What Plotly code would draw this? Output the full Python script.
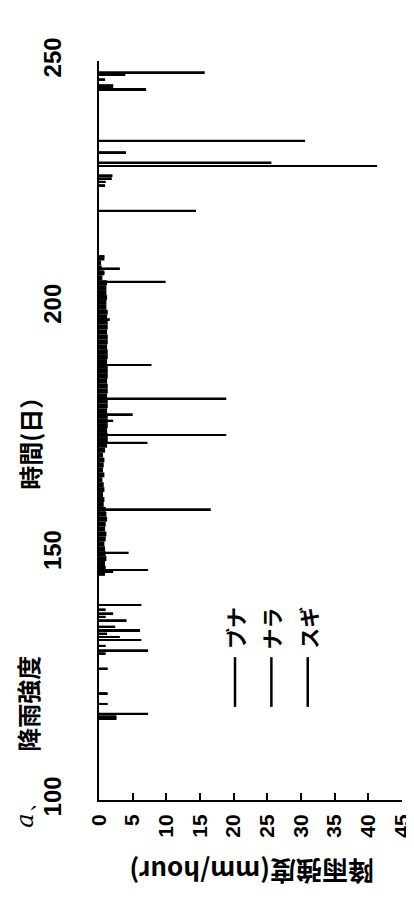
import plotly.graph_objects as go

# Daily background rainfall intensity (mm/hour), days 146-210
band_days = list(range(146, 211))
band_vals = [0.9, 1.0, 0.9, 1.1, 1.0, 0.9, 0.8, 1.0, 1.1, 0.9,
             1.0, 1.2, 1.1, 1.0, 0.7, 0.8, 0.6, 0.8, 0.7, 0.5,
             0.8, 0.6, 0.7, 0.8, 0.6, 0.9, 1.2, 1.3, 1.3, 1.2,
             1.3, 1.3, 1.3, 1.2, 1.3, 1.3, 1.2, 1.3, 1.3, 1.2,
             1.3, 1.3, 1.3, 1.2, 1.3, 1.3, 1.2, 1.3, 1.3, 1.2,
             1.3, 1.3, 1.2, 1.3, 1.1, 1.1, 1.2, 1.1, 1.1, 1.2,
             0.5, 0.8, 0.4, 0.3, 0.8]

# Rain events (day, intensity mm/hour)
event_days = [116.6, 117.0, 117.5, 119.5, 121.7, 126.7, 129.8, 130.4, 131.3, 132.5,
              133.1, 133.8, 134.5, 135.2, 136.5, 137.2, 137.9, 138.7, 139.6, 146.3,
              146.7, 150.2, 159.0, 172.5, 174.1, 177.0, 178.3, 181.5, 188.3, 197.6,
              205.2, 207.0, 207.9, 210.4, 219.6, 224.8, 225.5, 226.2, 226.8, 228.7,
              229.4, 231.5, 233.8, 244.3, 244.8, 245.1, 246.3, 247.2, 247.5, 247.7]
event_vals = [2.6, 2.6, 7.3, 1.3, 1.3, 1.3, 1.0, 7.3, 1.0, 6.3,
              3.1, 1.2, 6.1, 2.4, 4.1, 1.0, 2.1, 1.0, 6.3, 2.1,
              7.3, 4.4, 16.6, 7.2, 18.9, 2.1, 5.0, 18.9, 7.8, 1.6,
              9.9, 0.8, 3.1, 0.8, 14.4, 0.9, 1.0, 1.9, 2.0, 41.3,
              25.6, 4.0, 30.6, 7.0, 2.1, 2.1, 0.9, 3.9, 3.9, 15.7]

series_names = ["ブナ", "ナラ", "スギ"]
legend_x = [20.2, 25.6, 31.0]
x_ticks = [0, 5, 10, 15, 20, 25, 30, 35, 40, 45]
y_ticks = [100, 150, 200, 250]

fig = go.Figure()
fig.add_trace(go.Bar(x=band_vals, y=band_days, orientation="h", width=1.0,
                     marker=dict(color="black", line=dict(width=0)), showlegend=False))
fig.add_trace(go.Bar(x=event_vals, y=event_days, orientation="h", width=0.4,
                     marker=dict(color="black", line=dict(width=0)), showlegend=False))

fig.update_layout(
    width=406, height=891,
    margin=dict(l=91, r=12, t=53, b=99),
    paper_bgcolor="white", plot_bgcolor="white",
    barmode="overlay",
    xaxis=dict(range=[0, 45], tickvals=x_ticks, ticktext=[str(v) for v in x_ticks],
               tickangle=-90, ticks="inside", ticklen=7, tickwidth=1.5, tickcolor="black",
               automargin=False, ticklabelstandoff=4,
               showline=True, linecolor="black", linewidth=2, showgrid=False, zeroline=False,
               tickfont=dict(family="Liberation Sans", size=21, color="black", weight="bold")),
    yaxis=dict(range=[100, 250], tickvals=y_ticks, ticktext=[str(v) for v in y_ticks],
               tickangle=-90, ticks="", ticklabelstandoff=26, automargin=False,
               showline=True, linecolor="black", linewidth=2, showgrid=False, zeroline=False,
               tickfont=dict(family="Liberation Sans", size=24, color="black", weight="bold")),
)

cjk = "Noto Sans CJK JP"
for xv, name in zip(legend_x, series_names):
    fig.add_shape(type="line", xref="x", yref="y", x0=xv, x1=xv, y0=118.9, y1=129.0,
                  line=dict(color="black", width=2.5))
    fig.add_annotation(xref="x", yref="y", x=xv, y=134.9, text=name, showarrow=False,
                       textangle=-90, xanchor="center", yanchor="middle",
                       font=dict(family=cjk, size=21, color="black", weight="bold"))

def label(x, y, text, angle, font):
    fig.add_annotation(xref="paper", yref="paper", x=x, y=y, text=text, showarrow=False,
                       textangle=angle, xanchor="center", yanchor="middle", font=font)

label(-0.232, 0.491, "時間(日）", -90, dict(family=cjk, size=24, color="black", weight="bold"))
label(-0.236, 0.131, "降雨強度", -90, dict(family=cjk, size=24, color="black", weight="bold"))
label(-0.245, -0.012, "<i>a</i>、", -90, dict(family="DejaVu Serif", size=24, color="black"))
label(0.505, -0.0974, "降雨強度(mm/hour)", 180, dict(family=cjk, size=26, color="black", weight="bold"))

fig.write_html("out.html")
